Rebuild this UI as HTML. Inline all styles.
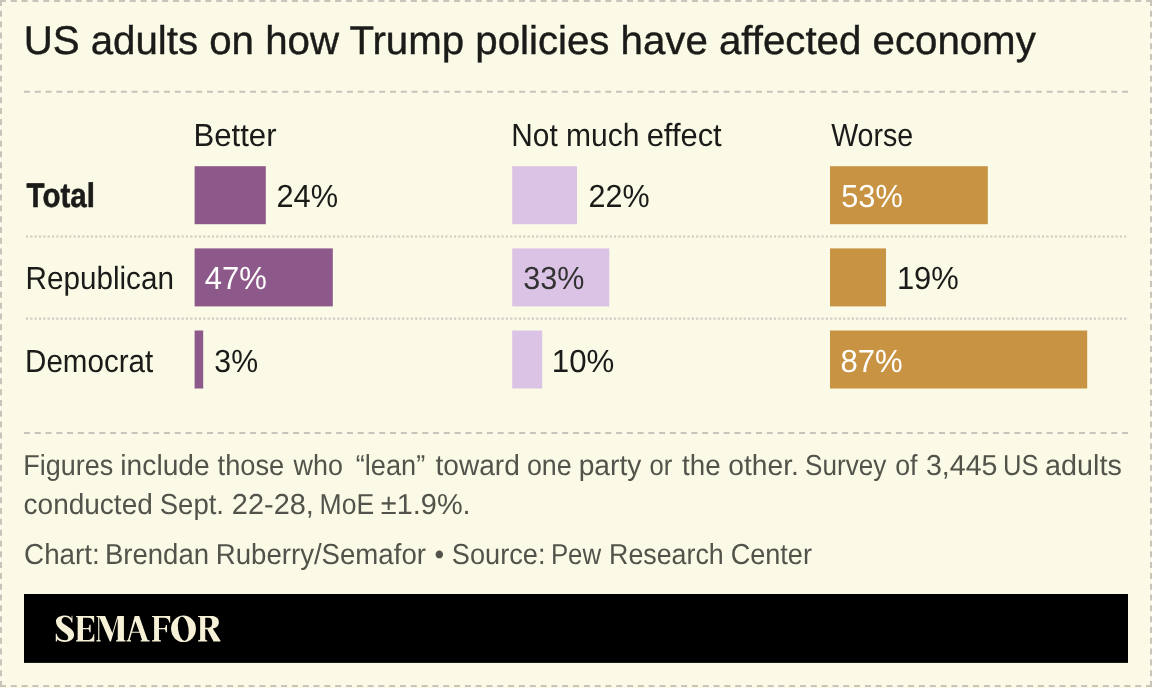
<!DOCTYPE html>
<html lang="en"><head><meta charset="utf-8"><title>US adults on how Trump policies have affected economy</title>
<style>
html,body{margin:0;padding:0;background:#fbfae6;}
body{width:1152px;height:688px;overflow:hidden;font-family:"Liberation Sans", sans-serif;}
svg{display:block;position:absolute;left:0;top:0;will-change:transform;}
svg text{font-family:"Liberation Sans", sans-serif;white-space:pre;text-rendering:geometricPrecision;}
</style></head><body>
<svg width="1152" height="688" viewBox="0 0 1152 688">
<rect x="0" y="0" width="1152" height="688" fill="#fbfae6"/>
<line x1="0" y1="1" x2="1152" y2="1" stroke="#c6c4bb" stroke-width="2" stroke-dasharray="6.0 4.8113"/>
<line x1="0" y1="686" x2="1152" y2="686" stroke="#c6c4bb" stroke-width="2" stroke-dasharray="6.0 4.8113"/>
<line x1="1" y1="0" x2="1" y2="687" stroke="#c6c4bb" stroke-width="2" stroke-dasharray="6.0 4.8095"/>
<line x1="1151" y1="0" x2="1151" y2="687" stroke="#c6c4bb" stroke-width="2" stroke-dasharray="6.0 4.8095"/>
<text x="23.7" y="54.0" font-size="40" fill="#1b1b19" textLength="1012.05" lengthAdjust="spacingAndGlyphs" stroke="#1b1b19" stroke-width="0.4">US adults on how Trump policies have affected economy</text>
<line x1="24" y1="91.75" x2="1128" y2="91.75" stroke="#c6c4bb" stroke-width="2" stroke-dasharray="6.0 4.7647"/>
<line x1="24" y1="433.1" x2="1128" y2="433.1" stroke="#c6c4bb" stroke-width="2" stroke-dasharray="6.0 4.7647"/>
<line x1="26" y1="236.5" x2="1126.3" y2="236.5" stroke="#cdcbc2" stroke-width="2.1" stroke-dasharray="2.1 2.2236"/>
<line x1="26" y1="318.6" x2="1126.3" y2="318.6" stroke="#cdcbc2" stroke-width="2.1" stroke-dasharray="2.1 2.2236"/>
<rect x="194.6" y="166.2" width="71.2" height="58" fill="#8c598a"/>
<rect x="194.6" y="248.4" width="138.2" height="58" fill="#8c598a"/>
<rect x="194.6" y="330.5" width="8.6" height="58" fill="#8c598a"/>
<rect x="512.2" y="166.2" width="64.8" height="58" fill="#dbc3e6"/>
<rect x="512.2" y="248.4" width="97.1" height="58" fill="#dbc3e6"/>
<rect x="512.2" y="330.5" width="30.0" height="58" fill="#dbc3e6"/>
<rect x="830" y="166.2" width="157.8" height="58" fill="#c89343"/>
<rect x="830" y="248.4" width="56" height="58" fill="#c89343"/>
<rect x="830" y="330.5" width="257.2" height="58" fill="#c89343"/>
<text x="193.45" y="146.2" font-size="32" fill="#1b1b19" textLength="83.07" lengthAdjust="spacingAndGlyphs">Better</text>
<text x="511.31" y="146.2" font-size="32" fill="#1b1b19" textLength="46.39" lengthAdjust="spacingAndGlyphs">Not</text>
<text x="566.02" y="146.2" font-size="32" fill="#1b1b19" textLength="73.43" lengthAdjust="spacingAndGlyphs">much</text>
<text x="646.7" y="146.2" font-size="32" fill="#1b1b19" textLength="75.01" lengthAdjust="spacingAndGlyphs">effect</text>
<text x="831.14" y="146.2" font-size="32" fill="#1b1b19" textLength="82.13" lengthAdjust="spacingAndGlyphs">Worse</text>
<text x="26.58" y="207.0" font-size="34" fill="#1b1b19" textLength="68.25" lengthAdjust="spacingAndGlyphs" font-weight="bold" stroke="#1b1b19" stroke-width="0.55">Total</text>
<text x="25.57" y="289.3" font-size="32" fill="#1b1b19" textLength="148.34" lengthAdjust="spacingAndGlyphs">Republican</text>
<text x="25.08" y="371.5" font-size="32" fill="#1b1b19" textLength="128.13" lengthAdjust="spacingAndGlyphs">Democrat</text>
<text x="276.46" y="207.0" font-size="32" fill="#1b1b19" textLength="61.62" lengthAdjust="spacingAndGlyphs">24%</text>
<text x="204.8" y="289.3" font-size="32" fill="#ffffff" textLength="62.03" lengthAdjust="spacingAndGlyphs">47%</text>
<text x="214.35" y="371.5" font-size="32" fill="#1b1b19" textLength="43.72" lengthAdjust="spacingAndGlyphs">3%</text>
<text x="588.47" y="207.0" font-size="32" fill="#1b1b19" textLength="61.09" lengthAdjust="spacingAndGlyphs">22%</text>
<text x="523.24" y="289.3" font-size="32" fill="#333333" textLength="61.13" lengthAdjust="spacingAndGlyphs">33%</text>
<text x="551.82" y="371.5" font-size="32" fill="#1b1b19" textLength="62.57" lengthAdjust="spacingAndGlyphs">10%</text>
<text x="841.27" y="207.0" font-size="32" fill="#ffffff" textLength="61.56" lengthAdjust="spacingAndGlyphs">53%</text>
<text x="896.9" y="289.3" font-size="32" fill="#1b1b19" textLength="61.93" lengthAdjust="spacingAndGlyphs">19%</text>
<text x="840.41" y="371.5" font-size="32" fill="#ffffff" textLength="62.17" lengthAdjust="spacingAndGlyphs">87%</text>
<text x="23.29" y="474.6" font-size="28.9" fill="#53534b" textLength="89.93" lengthAdjust="spacingAndGlyphs">Figures</text>
<text x="120.37" y="474.6" font-size="28.9" fill="#53534b" textLength="89.37" lengthAdjust="spacingAndGlyphs">include</text>
<text x="217.59" y="474.6" font-size="28.9" fill="#53534b" textLength="66.61" lengthAdjust="spacingAndGlyphs">those</text>
<text x="293.54" y="474.6" font-size="28.9" fill="#53534b" textLength="49.33" lengthAdjust="spacingAndGlyphs">who</text>
<text x="355.76" y="474.6" font-size="28.9" fill="#53534b" textLength="69.49" lengthAdjust="spacingAndGlyphs">“lean”</text>
<text x="435.58" y="474.6" font-size="28.9" fill="#53534b" textLength="84.22" lengthAdjust="spacingAndGlyphs">toward</text>
<text x="526.89" y="474.6" font-size="28.9" fill="#53534b" textLength="44.79" lengthAdjust="spacingAndGlyphs">one</text>
<text x="578.7" y="474.6" font-size="28.9" fill="#53534b" textLength="62.6" lengthAdjust="spacingAndGlyphs">party</text>
<text x="649.56" y="474.6" font-size="28.9" fill="#53534b" textLength="22.74" lengthAdjust="spacingAndGlyphs">or</text>
<text x="682.08" y="474.6" font-size="28.9" fill="#53534b" textLength="38.64" lengthAdjust="spacingAndGlyphs">the</text>
<text x="728.33" y="474.6" font-size="28.9" fill="#53534b" textLength="70.48" lengthAdjust="spacingAndGlyphs">other.</text>
<text x="805.08" y="474.6" font-size="28.9" fill="#53534b" textLength="81.21" lengthAdjust="spacingAndGlyphs">Survey</text>
<text x="895.14" y="474.6" font-size="28.9" fill="#53534b" textLength="22.32" lengthAdjust="spacingAndGlyphs">of</text>
<text x="925.91" y="474.6" font-size="28.9" fill="#53534b" textLength="71.52" lengthAdjust="spacingAndGlyphs">3,445</text>
<text x="1003.08" y="474.6" font-size="28.9" fill="#53534b" textLength="35.53" lengthAdjust="spacingAndGlyphs">US</text>
<text x="1045.04" y="474.6" font-size="28.9" fill="#53534b" textLength="76.74" lengthAdjust="spacingAndGlyphs">adults</text>
<text x="23.57" y="513.6" font-size="28.9" fill="#53534b" textLength="129.23" lengthAdjust="spacingAndGlyphs">conducted</text>
<text x="159.76" y="513.6" font-size="28.9" fill="#53534b" textLength="64.24" lengthAdjust="spacingAndGlyphs">Sept.</text>
<text x="231.86" y="513.6" font-size="28.9" fill="#53534b" textLength="81.95" lengthAdjust="spacingAndGlyphs">22-28,</text>
<text x="319.57" y="513.6" font-size="28.9" fill="#53534b" textLength="54.56" lengthAdjust="spacingAndGlyphs">MoE</text>
<text x="380.85" y="513.6" font-size="28.9" fill="#53534b" textLength="89.76" lengthAdjust="spacingAndGlyphs">±1.9%.</text>
<text x="24.1" y="563.8" font-size="28.9" fill="#53534b" textLength="75.67" lengthAdjust="spacingAndGlyphs">Chart:</text>
<text x="104.99" y="563.8" font-size="28.9" fill="#53534b" textLength="104.04" lengthAdjust="spacingAndGlyphs">Brendan</text>
<text x="215.74" y="563.8" font-size="28.9" fill="#53534b" textLength="210.21" lengthAdjust="spacingAndGlyphs">Ruberry/Semafor</text>
<text x="434.41" y="563.8" font-size="28.9" fill="#53534b" textLength="9.67" lengthAdjust="spacingAndGlyphs">•</text>
<text x="451.78" y="563.8" font-size="28.9" fill="#53534b" textLength="93.69" lengthAdjust="spacingAndGlyphs">Source:</text>
<text x="550.88" y="563.8" font-size="28.9" fill="#53534b" textLength="50.3" lengthAdjust="spacingAndGlyphs">Pew</text>
<text x="609.05" y="563.8" font-size="28.9" fill="#53534b" textLength="114.68" lengthAdjust="spacingAndGlyphs">Research</text>
<text x="730.63" y="563.8" font-size="28.9" fill="#53534b" textLength="81.31" lengthAdjust="spacingAndGlyphs">Center</text>
<rect x="24" y="594" width="1104" height="68.9" fill="#000000"/>
<g fill="#f6f1d6" fill-rule="evenodd" aria-label="SEMAFOR">
<path transform="translate(52 610) scale(0.052345)" d="M390,112 L390,240 L372,240 C360,180 320,138 255,135 C205,135 180,170 185,215 C195,290 420,330 422,470 C424,560 340,612 245,612 C180,612 130,595 105,560 L90,600 L72,600 L72,455 L90,455 C100,520 150,578 250,580 C300,580 320,540 305,500 C285,430 75,370 75,215 C75,150 150,105 250,105 C310,105 350,125 372,160 L375,112 Z"/>
<path transform="translate(52 610) scale(0.052345)" d="M460,115 L805,115 L805,240 L787,240 C780,190 760,150 700,148 L592,148 L592,342 L690,342 C705,342 712,320 715,280 L738,280 L738,425 L715,425 C712,390 705,368 690,368 L592,368 L592,572 L700,572 C760,570 782,520 790,465 L808,465 L808,600 L460,600 L460,580 C480,580 490,575 490,560 L490,155 C490,140 480,135 460,135 Z"/>
<path transform="translate(92 610) scale(0.052345)" d="M85,115 L250,115 L389,439 L485,115 L610,115 L610,560 C610,575 620,580 640,580 L640,600 L460,600 L460,580 C480,580 492,575 492,560 L492,159 L362,600 L340,600 L140,135 L140,560 C140,575 150,580 165,580 L165,600 L85,600 L85,580 C105,580 118,575 118,560 L118,155 C118,140 105,135 85,135 Z"/>
<path transform="translate(124 610) scale(0.052345)" d="M205,115 L290,115 L445,560 C450,575 465,580 490,580 L490,600 L320,600 L320,580 C340,580 345,572 340,558 L300,437 L148,437 L112,560 C108,574 118,580 135,580 L135,600 L50,600 L50,580 C68,580 78,572 83,556 Z M155,415 L292,415 L220,215 Z"/>
<path transform="translate(124 610) scale(0.052345)" d="M535,115 L882,115 L882,240 L864,240 C856,190 835,150 780,148 L668,148 L668,342 L770,342 C788,342 795,320 798,285 L822,285 L822,425 L798,425 C795,390 788,368 770,368 L668,368 L668,560 C668,575 680,580 705,580 L705,600 L535,600 L535,580 C560,580 575,575 575,560 L575,155 C575,140 560,135 535,135 Z"/>
<path transform="translate(180 610) scale(0.052345)" d="M345,115 L600,115 C690,115 742,160 742,232 C742,295 700,340 625,352 L765,572 L772,580 L772,600 L640,600 L520,368 L482,368 L482,560 C482,575 495,580 520,580 L520,600 L345,600 L345,580 C370,580 385,575 385,560 L385,155 C385,140 370,135 345,135 Z M482,148 L545,148 C595,148 615,185 615,240 C615,300 595,340 545,340 L482,340 Z"/>
<g transform="translate(164 610) scale(0.052345)"><ellipse cx="372.5" cy="358.5" rx="237.5" ry="253.5"/><ellipse cx="368" cy="358" rx="100" ry="230" transform="rotate(-7.5 368 358)" fill="#000000"/></g>
</g>
</svg>
</body></html>
